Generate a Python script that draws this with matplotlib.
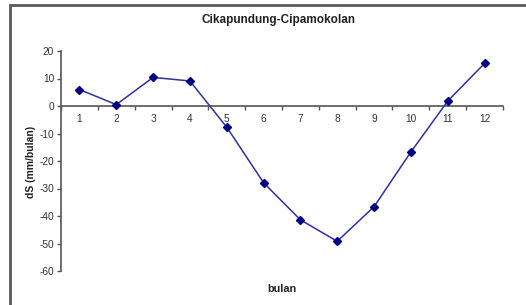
import matplotlib
matplotlib.use("Agg")
import matplotlib.pyplot as plt
from matplotlib.patches import Rectangle
import numpy as np

# data
bulan = [1, 2, 3, 4, 5, 6, 7, 8, 9, 10, 11, 12]
ds = [6.0, 0.5, 10.4, 9.1, -7.7, -27.9, -41.4, -49.2, -36.6, -16.7, 1.8, 15.5]
y_ticks = [20, 10, 0, -10, -20, -30, -40, -50, -60]

plt.rcParams['font.family'] = ['Liberation Sans', 'DejaVu Sans']

fig = plt.figure(figsize=(5.26, 3.05), dpi=100)
ax = fig.add_axes([61/526, 1 - 271/305, (503 - 61)/526, (271 - 51)/305])

ax.plot(bulan, ds, color='#3030a0', lw=1.1, marker='D', ms=4.5,
        mfc='#000080', mec='#000080', zorder=3)

ax.set_xlim(0.5, 12.5)
ax.set_ylim(-60, 20)

# y axis
ax.set_yticks(y_ticks)
ax.set_yticklabels([str(v) for v in y_ticks], fontsize=7.3, color='#333333')
ax.tick_params(axis='y', direction='out', length=3, width=1, color='#555555', pad=2)

# x axis crosses at 0
ax.spines['bottom'].set_position(('data', 0))
ax.spines['top'].set_visible(False)
ax.spines['right'].set_visible(False)
ax.spines['left'].set_color('#555555')
ax.spines['bottom'].set_color('#555555')
ax.spines['left'].set_linewidth(1.2)
ax.spines['bottom'].set_linewidth(1.2)
ax.set_xticks(bulan)
ax.set_xticklabels([str(b) for b in bulan], fontsize=7.3, color='#333333')
ax.set_xticks(np.arange(0.5, 13, 1), minor=True)
ax.tick_params(axis='x', which='major', length=0, pad=6)
ax.tick_params(axis='x', which='minor', direction='out', length=3, width=1, color='#555555')

fig.text(279/526, 1 - 20/305, 'Cikapundung-Cipamokolan', ha='center', va='center',
         fontsize=8.5, fontweight='bold', color='#222222')
fig.text(282/526, 1 - 289/305, 'bulan', ha='center', va='center',
         fontsize=7.8, fontweight='bold', color='#222222')
fig.text(31/526, 1 - 162/305, 'dS (mm/bulan)', ha='center', va='center',
         rotation=90, fontsize=7.5, fontweight='bold', color='#222222')

# outer chart frame (cut off at right and bottom)
fig.patches.append(Rectangle((10/526, -0.05), 1.05, 1 - 5/305 + 0.05,
                             transform=fig.transFigure, fill=False,
                             edgecolor='#5a5a5a', lw=2, clip_on=False))

fig.savefig('out.png', dpi=100)
